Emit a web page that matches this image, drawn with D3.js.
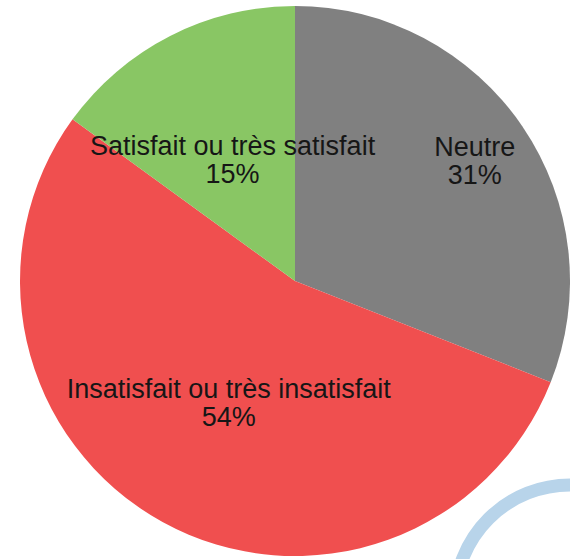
<!DOCTYPE html>
<html>
<head>
<meta charset="utf-8">
<script src="https://cdn.jsdelivr.net/npm/d3@7"></script>
<style>
  html, body { margin: 0; padding: 0; background: #fff; overflow: hidden; }
  svg { display: block; }
</style>
</head>
<body>
<div id="chart"></div>
<script>
// données
const categories = ["Neutre", "Insatisfait ou très insatisfait", "Satisfait ou très satisfait"];
const values = [31, 54, 15];
const colors = ["#808080", "#f04f4f", "#89c664"];

const width = 570, height = 559;
const cx = 295, cy = 281, radius = 275;

// rayon des étiquettes (fraction du rayon), comme LibreOffice les place
const labelRadius = { "Neutre": 0.79 };
const defaultLabelRadius = 0.5;

const svg = d3.select("#chart").append("svg")
  .attr("width", width)
  .attr("height", height);

const data = categories.map((c, i) => ({ cat: c, value: values[i], color: colors[i] }));

const pie = d3.pie().sort(null).value(d => d.value);
const arc = d3.arc().innerRadius(0).outerRadius(radius);
const arcs = pie(data);

const g = svg.append("g").attr("transform", `translate(${cx},${cy})`);

g.selectAll("path.slice")
  .data(arcs)
  .enter().append("path")
    .attr("class", "slice")
    .attr("d", arc)
    .attr("fill", d => d.data.color);

// étiquettes : nom + pourcentage
const total = d3.sum(values);
const fmtPct = v => Math.round(v / total * 100) + "%";

const labels = g.selectAll("text.lbl")
  .data(arcs)
  .enter().append("text")
    .attr("class", "lbl")
    .attr("transform", d => {
      const r = radius * (labelRadius[d.data.cat] || defaultLabelRadius);
      const [x, y] = d3.arc().innerRadius(r).outerRadius(r).centroid(d);
      return `translate(${x},${y})`;
    })
    .attr("text-anchor", "middle")
    .style("font-family", "'Liberation Sans', Arial, sans-serif")
    .style("font-size", "27px")
    .style("fill", "#161616");

labels.append("tspan").attr("x", 0).attr("y", -3).text(d => d.data.cat);
labels.append("tspan").attr("x", 0).attr("y", 25).text(d => fmtPct(d.data.value));

// cercle bleu décoratif en bas à droite
svg.append("circle")
  .attr("cx", 570)
  .attr("cy", 600)
  .attr("r", 115)
  .attr("fill", "none")
  .attr("stroke", "#b8d4ea")
  .attr("stroke-width", 13);
</script>
</body>
</html>
